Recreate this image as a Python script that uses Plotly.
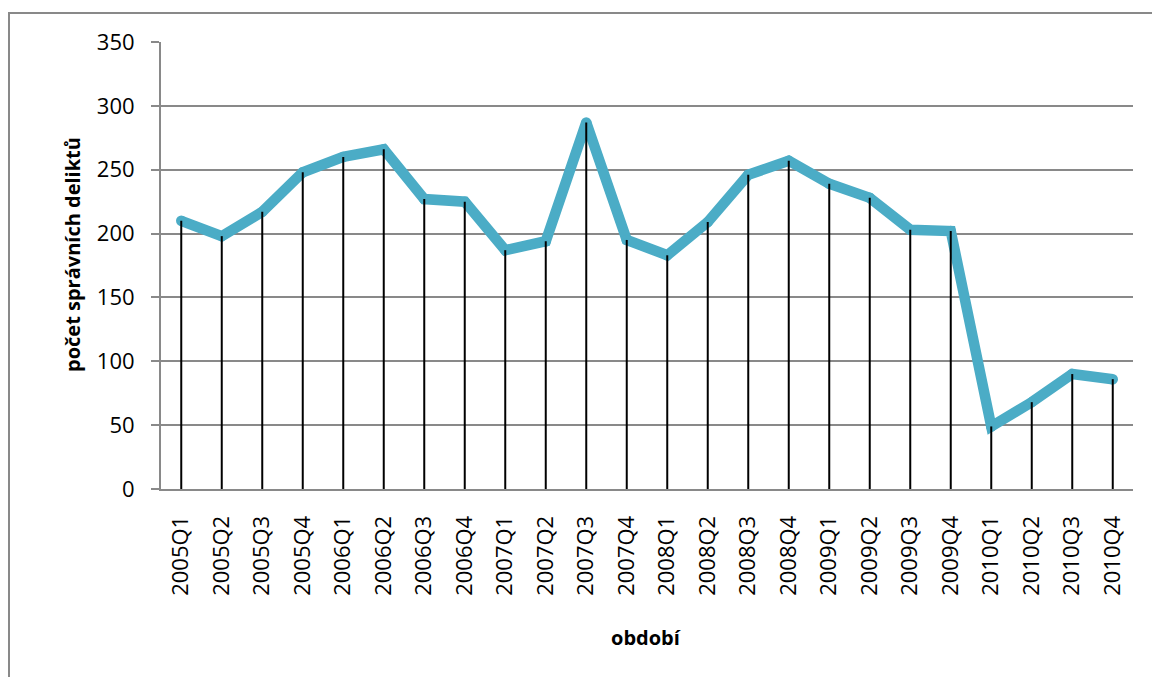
import plotly.graph_objects as go

# Quarterly counts of administrative offences, 2005–2010
periods = [
    "2005Q1", "2005Q2", "2005Q3", "2005Q4",
    "2006Q1", "2006Q2", "2006Q3", "2006Q4",
    "2007Q1", "2007Q2", "2007Q3", "2007Q4",
    "2008Q1", "2008Q2", "2008Q3", "2008Q4",
    "2009Q1", "2009Q2", "2009Q3", "2009Q4",
    "2010Q1", "2010Q2", "2010Q3", "2010Q4",
]
counts = [
    210, 198, 217, 248,
    260, 266, 227, 225,
    187, 194, 287, 195,
    183, 209, 246, 257,
    239, 228, 203, 202,
    49, 68, 90, 86,
]
y_ticks = [0, 50, 100, 150, 200, 250, 300, 350]

x_title = "období"
y_title = "počet správních deliktů"

LINE_COLOR = "#4BACC6"
GRID_COLOR = "#898989"
FONT = "Open Sans"

# Drop lines from each point down to the category axis
drop_x, drop_y = [], []
for p, v in zip(periods, counts):
    drop_x += [p, p, None]
    drop_y += [0, v, None]

fig = go.Figure()
fig.add_trace(go.Scatter(
    x=periods, y=counts, mode="lines+markers",
    line=dict(color=LINE_COLOR, width=10.5),
    marker=dict(color=LINE_COLOR, size=10.5, line=dict(width=0)),
    showlegend=False, hoverinfo="x+y",
))
fig.add_trace(go.Scatter(
    x=drop_x, y=drop_y, mode="lines",
    line=dict(color="black", width=2),
    showlegend=False, hoverinfo="skip",
))

W, H = 1152, 677
ML, MR, MT, MB = 161, 19, 42, 188
pw, ph = W - ML - MR, H - MT - MB

fig.update_layout(
    width=W, height=H,
    margin=dict(l=ML, r=MR, t=MT, b=MB, pad=0),
    paper_bgcolor="white", plot_bgcolor="white",
    font=dict(family=FONT, color="black"),
    xaxis=dict(
        type="category", categoryorder="array", categoryarray=periods,
        range=[-0.5, len(periods) - 0.5],
        showgrid=False, zeroline=False,
        showline=True, linecolor=GRID_COLOR, linewidth=2,
        ticks="", tickangle=-90,
        tickfont=dict(family=FONT, size=22, color="black"),
        ticklabelstandoff=16,
    ),
    yaxis=dict(
        range=[0, 350], tickvals=y_ticks,
        showgrid=True, gridcolor=GRID_COLOR, gridwidth=2,
        zeroline=False,
        showline=True, linecolor=GRID_COLOR, linewidth=2,
        ticks="outside", ticklen=8, tickcolor=GRID_COLOR, tickwidth=2,
        tickfont=dict(family=FONT, size=22, color="black"),
        ticklabelstandoff=12,
    ),
    annotations=[
        dict(text=f"<b>{x_title}</b>", xref="paper", yref="paper",
             x=(646 - ML) / pw, y=1 - (637 - MT) / ph,
             xanchor="center", yanchor="middle", showarrow=False,
             font=dict(family=FONT, size=20, color="black")),
        dict(text=f"<b>{y_title}</b>", xref="paper", yref="paper",
             x=(72 - ML) / pw, y=1 - (255 - MT) / ph, textangle=-90,
             xanchor="center", yanchor="middle", showarrow=False,
             font=dict(family=FONT, size=20, color="black")),
    ],
    shapes=[
        # chart-area frame (extends past the right and bottom edges)
        dict(type="rect", xref="paper", yref="paper",
             x0=(9 - ML) / pw, x1=(W + 20 - ML) / pw,
             y0=1 - (H + 20 - MT) / ph, y1=1 - (13 - MT) / ph,
             line=dict(color=GRID_COLOR, width=2), fillcolor="rgba(0,0,0,0)",
             layer="below"),
    ],
)

fig.write_html("out.html")
